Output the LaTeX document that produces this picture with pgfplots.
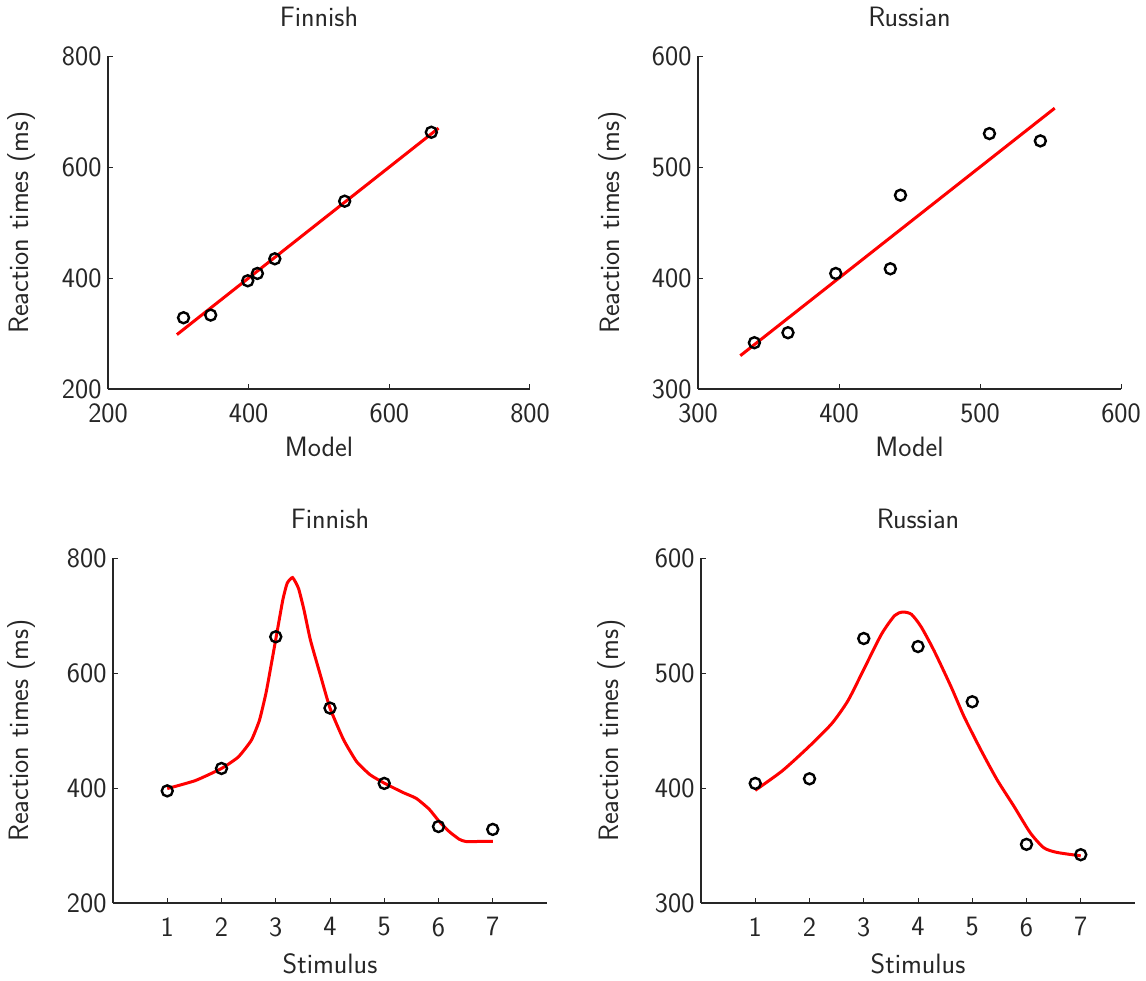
\documentclass[border=0pt]{standalone}
\usepackage{fontspec}
\usepackage{pgfplots}
\pgfplotsset{compat=1.18}
\definecolor{txt}{HTML}{262626}

\pgfplotstableread{
x y
307.4 328.4
346.0 333.2
398.7 395.0
412.4 408.2
437.2 434.6
536.5 538.4
659.7 662.6
}\finscatter

\pgfplotstableread{
x y
340.0 341.7
363.8 350.7
397.7 404.1
436.4 408.3
443.6 474.6
506.7 530.1
542.8 523.5
}\russcatter

\pgfplotstableread{
x y
1 395
2 434
3 663
4 539
5 408
6 333
7 328
}\finstim

\pgfplotstableread{
x y
1 404
2 408
3 530
4 523
5 475
6 351
7 342
}\russtim

\pgfplotstableread{
x y
1.00 399
1.52 413
2.00 434
2.31 454
2.55 483
2.70 518
2.82 565
2.91 611
3.02 669
3.13 727
3.21 756
3.31 766
3.42 747
3.52 710
3.64 657
3.83 594
4.00 539
4.25 484
4.49 446
4.74 423
5.01 408
5.35 392
5.59 382
5.83 363
6.02 341
6.20 324
6.38 311
6.50 307
6.75 307
7.00 307
}\fincurve

\pgfplotstableread{
x y
1.00 398
1.50 415
1.99 436
2.41 456
2.71 476
3.02 505
3.33 534
3.57 550
3.72 553
3.88 551
4.06 540
4.30 519
4.61 488
4.85 462
5.16 433
5.46 407
5.77 384
6.07 361
6.32 348
6.56 344
7.00 341
}\ruscurve

\pgfplotsset{
  mystyle/.style={
    scale only axis,
    axis x line=bottom, axis y line=left,
    axis line style={-, txt, line width=1.3pt},
    tick style={txt, line width=1pt},
    tick align=inside,
    major tick length=5pt,
    /pgf/number format/assume math mode=true,
    /pgf/number format/1000 sep={},
    scaled ticks=false,
    every tick label/.append style={font=\fontsize{28}{28}\selectfont\sffamily, text=txt},
    xticklabel style={yshift=-11pt},
    yticklabel style={xshift=-3pt},
    every axis label/.append style={font=\fontsize{28}{28}\selectfont\sffamily, text=txt, inner sep=0pt},
    title style={font=\fontsize{28}{28}\selectfont\sffamily, text=txt, inner sep=0pt, at={(axis description cs:0.5,1)}, anchor=south, yshift=23pt},
    xlabel style={at={(axis description cs:0.5,0)}, anchor=north, yshift=-48pt},
    ylabel={Reaction times (ms)},
  },
  redline/.style={red, line width=3pt, no markers},
  circ/.style={only marks, mark=o, black, mark size=5.5pt, line width=2.4pt},
}

\begin{document}
\begin{tikzpicture}[x=1pt,y=1pt]
\useasboundingbox (0,0) rectangle (1146,-981);

\begin{axis}[mystyle, at={(108pt,-389pt)}, anchor=south west, width=422pt, height=333pt,
  xmin=200, xmax=800, ymin=200, ymax=800, xtick={200,400,600,800}, ytick={200,400,600,800},
  title={Finnish}, xlabel={Model},
  ylabel style={at={(axis description cs:-0.171,0.5)}, anchor=south}]
\addplot[redline] coordinates {(298,298) (670,670)};
\addplot[circ] table[x=x,y=y] {\finscatter};
\end{axis}

\begin{axis}[mystyle, at={(698pt,-389pt)}, anchor=south west, width=423pt, height=333pt,
  xmin=300, xmax=600, ymin=300, ymax=600, xtick={300,400,500,600}, ytick={300,400,500,600},
  title={Russian}, xlabel={Model},
  ylabel style={at={(axis description cs:-0.168,0.5)}, anchor=south}]
\addplot[redline] coordinates {(330,330) (553,553)};
\addplot[circ] table[x=x,y=y] {\russcatter};
\end{axis}

\begin{axis}[mystyle, at={(113pt,-903pt)}, anchor=south west, width=434pt, height=345pt,
  xmin=0, xmax=8, ymin=200, ymax=800, xtick={1,2,3,4,5,6,7}, ytick={200,400,600,800},
  title={Finnish}, xlabel={Stimulus}, xlabel style={yshift=-2pt},
  ylabel style={at={(axis description cs:-0.177,0.5)}, anchor=south}]
\addplot[redline, smooth, tension=0.3] table[x=x,y=y] {\fincurve};
\addplot[circ] table[x=x,y=y] {\finstim};
\end{axis}

\begin{axis}[mystyle, at={(701pt,-903pt)}, anchor=south west, width=434pt, height=345pt,
  xmin=0, xmax=8, ymin=300, ymax=600, xtick={1,2,3,4,5,6,7}, ytick={300,400,500,600},
  title={Russian}, xlabel={Stimulus}, xlabel style={yshift=-2pt},
  ylabel style={at={(axis description cs:-0.173,0.5)}, anchor=south}]
\addplot[redline, smooth, tension=0.4] table[x=x,y=y] {\ruscurve};
\addplot[circ] table[x=x,y=y] {\russtim};
\end{axis}

\end{tikzpicture}
\end{document}
